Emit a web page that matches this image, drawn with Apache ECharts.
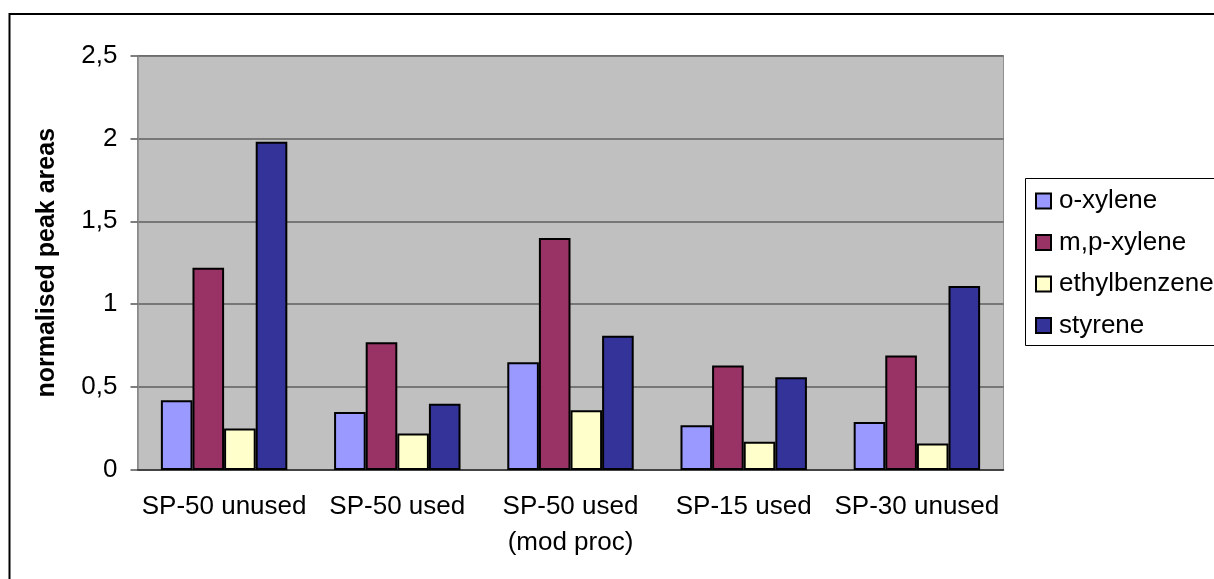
<!doctype html>
<html>
	<head>
		<meta charset="UTF-8">
		<title></title>
		<script src="https://cdn.jsdelivr.net/npm/echarts@6/dist/echarts.min.js"></script>
		<style type="text/css">
			html,body{
				margin:0;
				padding:0;
				background:#fff;
			}
			#main{
				width:1214px;
				height:579px;
			}
		</style>
	</head>
	<body>
		<div id="main"></div>
		<script type="text/javascript">
			// 分类和数据
			var categories=['SP-50 unused','SP-50 used','SP-50 used\n(mod proc)','SP-15 used','SP-30 unused'];
			var oXylene=[0.42,0.35,0.65,0.27,0.29];
			var mpXylene=[1.22,0.77,1.40,0.63,0.69];
			var ethylbenzene=[0.25,0.22,0.36,0.17,0.16];
			var styrene=[1.98,0.40,0.81,0.56,1.11];
			var seriesNames=['o-xylene','m,p-xylene','ethylbenzene','styrene'];
			var seriesColors=['#9999FF','#993366','#FFFFCC','#333399'];
			var yTicks=[0,0.5,1,1.5,2,2.5];

			var font='"Liberation Sans", Arial, sans-serif';
			var myChart=echarts.init(document.getElementById('main'));

			var allData=[oXylene,mpXylene,ethylbenzene,styrene];
			var series=[];
			for(var i=0;i<allData.length;i++){
				series.push({
					name:seriesNames[i],
					type:'bar',
					data:allData[i],
					barGap:'0%',
					barCategoryGap:'27%',
					itemStyle:{
						color:seriesColors[i],
						borderColor:'#000',
						borderWidth:2
					}
				});
			}

			var option={
				animation:false,
				textStyle:{fontFamily:font},
				graphic:[{
					//外框
					type:'rect',
					shape:{x:9.5,y:14,width:1400,height:800},
					style:{fill:'none',stroke:'#000',lineWidth:2},
					z:-1
				},{
					//图例框，右边超出画面
					type:'rect',
					shape:{x:1025.5,y:178.5,width:260,height:167},
					style:{fill:'#fff',stroke:'#000',lineWidth:1},
					z:-1
				}],
				grid:{
					left:137.5,
					right:210.5,
					top:55.5,
					bottom:109,
					show:true,
					backgroundColor:'#C0C0C0',
					borderColor:'#909090',
					borderWidth:1
				},
				legend:{
					orient:'vertical',
					left:1025,
					top:178,
					padding:[10,0,9,10],
					itemWidth:15,
					itemHeight:15,
					itemGap:15.5,
					icon:'rect',
					textStyle:{fontSize:26,color:'#000',fontFamily:font,padding:[0,0,0,3]},
					data:seriesNames
				},
				xAxis:{
					type:'category',
					data:categories,
					axisLine:{lineStyle:{color:'#333',width:1.5}},
					axisTick:{length:7,lineStyle:{color:'#333',width:1.5}},
					axisLabel:{
						interval:0,
						margin:19,
						fontSize:26,
						color:'#000',
						lineHeight:36,
						fontFamily:font
					}
				},
				yAxis:{
					type:'value',
					min:yTicks[0],
					max:yTicks[yTicks.length-1],
					interval:0.5,
					name:'normalised peak areas',
					nameLocation:'middle',
					nameGap:78,
					nameTextStyle:{fontSize:25,fontWeight:'bold',color:'#000',fontFamily:font},
					axisLine:{show:true,lineStyle:{color:'#888',width:1.5}},
					axisTick:{show:true,length:7,lineStyle:{color:'#555',width:1.5}},
					axisLabel:{
						margin:20,
						fontSize:26,
						color:'#000',
						fontFamily:font,
						formatter:function(v){
							return String(v).replace('.',',');
						}
					},
					splitLine:{lineStyle:{color:'#5f5f5f',width:1.5}}
				},
				series:series
			};

			myChart.setOption(option);
		</script>
	</body>
</html>
